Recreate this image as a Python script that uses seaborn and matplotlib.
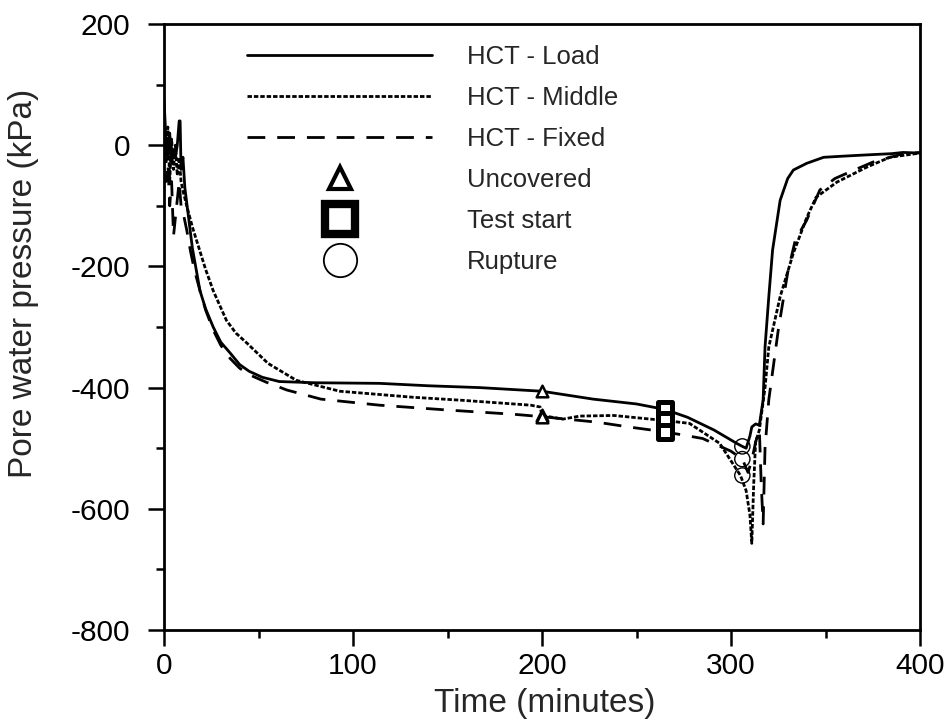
import matplotlib
matplotlib.use('Agg')
import matplotlib.pyplot as plt
from matplotlib.lines import Line2D
from matplotlib.ticker import MultipleLocator
import seaborn as sns
import pandas as pd

# 读图得到的数据 (时间 min, 孔隙水压力 kPa)
t_load = [0, 1, 2, 3, 4, 5, 6, 7, 8, 8.5, 9, 10, 11, 13, 15, 17, 19, 22, 26, 30, 35,
          40, 45, 52, 61, 80, 114, 140, 167, 200, 227, 250, 265, 277, 291, 303, 306,
          308, 310, 311, 313, 315, 317, 318, 320, 322, 326, 330, 333, 340, 349, 360,
          372, 385, 391, 400]
p_load = [74, 10, -20, 20, -30, -10, -20, 0, 40, 40, -40, -20, -70, -120, -170, -205,
          -240, -270, -300, -325, -343, -362, -373, -383, -390, -392, -393, -397, -400,
          -406, -419, -427, -436, -449, -470, -492, -497, -500, -480, -465, -460, -462,
          -420, -333, -250, -173, -91, -55, -41, -30, -20, -18, -16, -14, -12, -13]

t_mid = [0, 1, 2, 3, 4, 5, 6, 7, 8, 9, 10, 12, 15, 18, 22, 26, 30, 33, 38, 44, 55, 70,
         93, 132, 158, 194, 199, 200, 211, 220, 238, 264, 278, 294, 305, 308, 310, 311,
         312, 313, 315, 318, 320, 326, 333, 340, 345, 356, 372, 384, 400]
p_mid = [20, -30, 30, -60, 10, -40, 0, -50, -20, -60, -75, -100, -135, -165, -205,
         -240, -268, -289, -310, -327, -360, -388, -406, -416, -421, -429, -432, -446,
         -452, -447, -446, -454, -459, -492, -545, -570, -610, -657, -560, -490, -470,
         -400, -333, -250, -178, -120, -86, -61, -36, -20, -13]

t_fix = [0, 1, 2, 3, 4, 5, 6, 7, 8, 9, 10, 12, 14, 16, 19, 22, 26, 30, 35, 40, 46,
         54, 65, 83, 114, 150, 185, 200, 229, 246, 265, 285, 300, 306, 309, 311, 313,
         315, 316, 317, 318, 320, 325, 330, 334, 340, 347, 355, 363, 375, 390, 400]
p_fix = [50, -60, -30, -100, -60, -150, -120, -90, -60, -100, -110, -140, -175, -205,
         -240, -272, -305, -330, -352, -368, -380, -391, -404, -419, -429, -437, -444,
         -448, -457, -465, -473, -484, -505, -518, -540, -520, -490, -470, -560, -625,
         -500, -420, -305, -210, -157, -124, -74, -55, -44, -28, -15, -12]

# 事件点
t_uncovered = [200, 200, 200]
p_uncovered = [-406, -446, -448]
t_start = [265, 265, 265]
p_start = [-436, -454, -473]
t_rupture = [306, 306, 306]
p_rupture = [-497, -518, -545]

sns.set_style('ticks')
plt.rcParams['font.family'] = ['Liberation Sans', 'DejaVu Sans']
plt.rcParams['axes.unicode_minus'] = False

fig = plt.figure(figsize=(9.51, 7.24), dpi=100)
ax = fig.add_axes([0.1725, 0.1298, 0.7949, 0.8371])

lw = 2.0
dot_ls = (0, (1.6, 0.7))
dash_ls = (0, (6.4, 4.3))

sns.lineplot(x=t_load, y=p_load, ax=ax, color='k', lw=lw, linestyle='-',
             sort=False, estimator=None)
sns.lineplot(x=t_mid, y=p_mid, ax=ax, color='k', lw=lw, linestyle=dot_ls,
             sort=False, estimator=None)
sns.lineplot(x=t_fix, y=p_fix, ax=ax, color='k', lw=lw, linestyle=dash_ls,
             sort=False, estimator=None)

sns.scatterplot(x=t_uncovered, y=p_uncovered, ax=ax, marker='^', s=70,
                color='white', edgecolor='k', linewidth=1.8, zorder=5)
sns.scatterplot(x=t_start, y=p_start, ax=ax, marker='s', s=95,
                color='white', edgecolor='k', linewidth=3.6, zorder=5)
sns.scatterplot(x=t_rupture, y=p_rupture, ax=ax, marker='o', s=120,
                color='none', edgecolor='k', linewidth=1, zorder=5)

ax.set_xlim(0, 400)
ax.set_ylim(-800, 200)
ax.xaxis.set_major_locator(MultipleLocator(100))
ax.xaxis.set_minor_locator(MultipleLocator(50))
ax.yaxis.set_major_locator(MultipleLocator(200))
ax.yaxis.set_minor_locator(MultipleLocator(100))

for s in ax.spines.values():
    s.set_linewidth(2.0)
    s.set_color('k')
ax.tick_params(axis='both', which='major', length=11.5, width=1.8, color='k',
               labelsize=21.5, labelcolor='k')
ax.tick_params(axis='both', which='minor', length=6, width=1.8, color='k')
ax.tick_params(axis='y', which='major', pad=13)
ax.tick_params(axis='x', which='major', pad=4)
ax.tick_params(top=False, right=False, which='both')

ax.set_xlabel('Time (minutes)', fontsize=24)
ax.set_ylabel('Pore water pressure (kPa)', fontsize=24)
ax.xaxis.set_label_coords(0.503, -0.096)
ax.yaxis.set_label_coords(-0.165, 0.572)

handles = [
    Line2D([], [], color='k', lw=lw, linestyle='-'),
    Line2D([], [], color='k', lw=lw, linestyle=dot_ls),
    Line2D([], [], color='k', lw=lw, linestyle=dash_ls),
    Line2D([], [], ls='none', marker='^', markersize=16, mfc='white', mec='k', mew=3),
    Line2D([], [], ls='none', marker='s', markersize=21, mfc='white', mec='k', mew=6),
    Line2D([], [], ls='none', marker='o', markersize=24, mfc='white', mec='k', mew=1.3),
]
labels = ['HCT - Load', 'HCT - Middle', 'HCT - Fixed', 'Uncovered', 'Test start', 'Rupture']
ax.legend(handles, labels, loc='upper left', bbox_to_anchor=(0.1098, 0.9653),
          frameon=False, fontsize=18.5, handlelength=7.2, handletextpad=1.36,
          labelspacing=0.66, borderpad=0, borderaxespad=0)

fig.savefig('out.png', dpi=100)
